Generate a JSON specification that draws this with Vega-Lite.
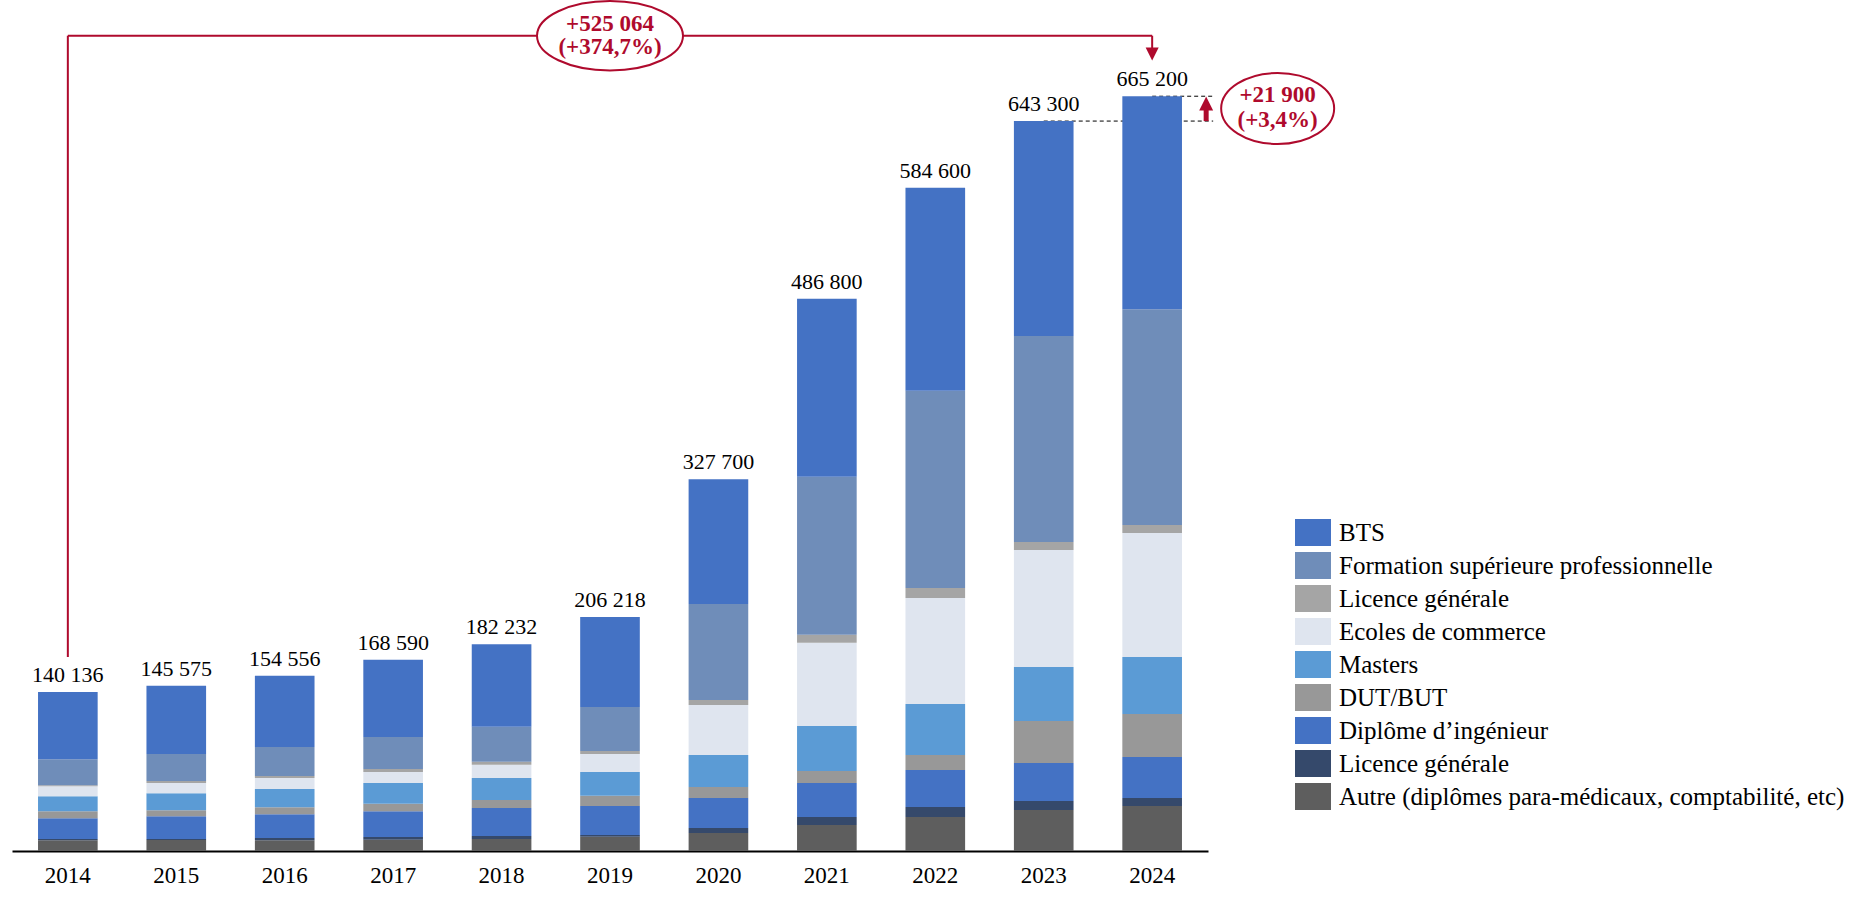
{
  "$schema": "https://vega.github.io/schema/vega-lite/v6.json",
  "width": 1196,
  "height": 851,
  "autosize": {"type": "none"},
  "padding": {"left": 12, "top": 0, "right": 653, "bottom": 48},
  "background": "white",
  "datasets": {
    "guides": [
      {"de": "2023", "a": "2024", "niveau": 643300},
      {"de": "2024", "a": "2024", "niveau": 665200}
    ],
    "crochet_v": [
      {"annee": "2014", "bas": 171000, "haut": 718500},
      {"annee": "2024", "bas": 707700, "haut": 718500}
    ],
    "crochet_h": [{"de": "2014", "a": "2024", "niveau": 718500}],
    "pointe_bas": [{"annee": "2024", "niveau": 702400}],
    "bulle_haut": [{"annee": "2019", "niveau": 718500}],
    "texte_haut": [
      {"annee": "2019", "niveau": 722900, "texte": "+525 064"},
      {"annee": "2019", "niveau": 702000, "texte": "(+374,7%)"}
    ],
    "tige": [{"annee": "2024", "bas": 643300, "haut": 653700}],
    "pointe_haut": [{"annee": "2024", "niveau": 658800}],
    "bulle_droite": [{"annee": "2024", "niveau": 654400}],
    "texte_droite": [
      {"annee": "2024", "niveau": 660400, "texte": "+21 900"},
      {"annee": "2024", "niveau": 638300, "texte": "(+3,4%)"}
    ],
    "effectifs": [
      {"annee": "2014", "categorie": "Autre (diplômes para-médicaux, comptabilité, etc)", "effectif": 9421},
      {"annee": "2014", "categorie": "Licence générale (2)", "effectif": 1178},
      {"annee": "2014", "categorie": "Diplôme d’ingénieur", "effectif": 18253},
      {"annee": "2014", "categorie": "DUT/BUT", "effectif": 6182},
      {"annee": "2014", "categorie": "Masters", "effectif": 13248},
      {"annee": "2014", "categorie": "Ecoles de commerce", "effectif": 8832},
      {"annee": "2014", "categorie": "Licence générale (1)", "effectif": 883},
      {"annee": "2014", "categorie": "Formation supérieure professionnelle", "effectif": 22963},
      {"annee": "2014", "categorie": "BTS", "effectif": 59176},
      {"annee": "2015", "categorie": "Autre (diplômes para-médicaux, comptabilité, etc)", "effectif": 9725},
      {"annee": "2015", "categorie": "Licence générale (2)", "effectif": 884},
      {"annee": "2015", "categorie": "Diplôme d’ingénieur", "effectif": 20040},
      {"annee": "2015", "categorie": "DUT/BUT", "effectif": 5305},
      {"annee": "2015", "categorie": "Masters", "effectif": 15030},
      {"annee": "2015", "categorie": "Ecoles de commerce", "effectif": 8841},
      {"annee": "2015", "categorie": "Licence générale (1)", "effectif": 1768},
      {"annee": "2015", "categorie": "Formation supérieure professionnelle", "effectif": 23871},
      {"annee": "2015", "categorie": "BTS", "effectif": 60111},
      {"annee": "2016", "categorie": "Autre (diplômes para-médicaux, comptabilité, etc)", "effectif": 9439},
      {"annee": "2016", "categorie": "Licence générale (2)", "effectif": 2065},
      {"annee": "2016", "categorie": "Diplôme d’ingénieur", "effectif": 20942},
      {"annee": "2016", "categorie": "DUT/BUT", "effectif": 6194},
      {"annee": "2016", "categorie": "Masters", "effectif": 15928},
      {"annee": "2016", "categorie": "Ecoles de commerce", "effectif": 9734},
      {"annee": "2016", "categorie": "Licence générale (1)", "effectif": 1770},
      {"annee": "2016", "categorie": "Formation supérieure professionnelle", "effectif": 25661},
      {"annee": "2016", "categorie": "BTS", "effectif": 62823},
      {"annee": "2017", "categorie": "Autre (diplômes para-médicaux, comptabilité, etc)", "effectif": 10021},
      {"annee": "2017", "categorie": "Licence générale (2)", "effectif": 2358},
      {"annee": "2017", "categorie": "Diplôme d’ingénieur", "effectif": 22695},
      {"annee": "2017", "categorie": "DUT/BUT", "effectif": 6484},
      {"annee": "2017", "categorie": "Masters", "effectif": 18274},
      {"annee": "2017", "categorie": "Ecoles de commerce", "effectif": 9726},
      {"annee": "2017", "categorie": "Licence générale (1)", "effectif": 2653},
      {"annee": "2017", "categorie": "Formation supérieure professionnelle", "effectif": 28295},
      {"annee": "2017", "categorie": "BTS", "effectif": 68084},
      {"annee": "2018", "categorie": "Autre (diplômes para-médicaux, comptabilité, etc)", "effectif": 10633},
      {"annee": "2018", "categorie": "Licence générale (2)", "effectif": 2658},
      {"annee": "2018", "categorie": "Diplôme d’ingénieur", "effectif": 24514},
      {"annee": "2018", "categorie": "DUT/BUT", "effectif": 7088},
      {"annee": "2018", "categorie": "Masters", "effectif": 19493},
      {"annee": "2018", "categorie": "Ecoles de commerce", "effectif": 11519},
      {"annee": "2018", "categorie": "Licence générale (1)", "effectif": 2658},
      {"annee": "2018", "categorie": "Formation supérieure professionnelle", "effectif": 31012},
      {"annee": "2018", "categorie": "BTS", "effectif": 72657},
      {"annee": "2019", "categorie": "Autre (diplômes para-médicaux, comptabilité, etc)", "effectif": 12632},
      {"annee": "2019", "categorie": "Licence générale (2)", "effectif": 1469},
      {"annee": "2019", "categorie": "Diplôme d’ingénieur", "effectif": 25557},
      {"annee": "2019", "categorie": "DUT/BUT", "effectif": 9107},
      {"annee": "2019", "categorie": "Masters", "effectif": 20857},
      {"annee": "2019", "categorie": "Ecoles de commerce", "effectif": 15863},
      {"annee": "2019", "categorie": "Licence générale (1)", "effectif": 2644},
      {"annee": "2019", "categorie": "Formation supérieure professionnelle", "effectif": 38776},
      {"annee": "2019", "categorie": "BTS", "effectif": 79313},
      {"annee": "2020", "categorie": "Autre (diplômes para-médicaux, comptabilité, etc)", "effectif": 15856},
      {"annee": "2020", "categorie": "Licence générale (2)", "effectif": 4404},
      {"annee": "2020", "categorie": "Diplôme d’ingénieur", "effectif": 26427},
      {"annee": "2020", "categorie": "DUT/BUT", "effectif": 9690},
      {"annee": "2020", "categorie": "Masters", "effectif": 28189},
      {"annee": "2020", "categorie": "Ecoles de commerce", "effectif": 44045},
      {"annee": "2020", "categorie": "Licence générale (1)", "effectif": 4404},
      {"annee": "2020", "categorie": "Formation supérieure professionnelle", "effectif": 84567},
      {"annee": "2020", "categorie": "BTS", "effectif": 110118},
      {"annee": "2021", "categorie": "Autre (diplômes para-médicaux, comptabilité, etc)", "effectif": 22929},
      {"annee": "2021", "categorie": "Licence générale (2)", "effectif": 7055},
      {"annee": "2021", "categorie": "Diplôme d’ingénieur", "effectif": 29984},
      {"annee": "2021", "categorie": "DUT/BUT", "effectif": 10583},
      {"annee": "2021", "categorie": "Masters", "effectif": 39685},
      {"annee": "2021", "categorie": "Ecoles de commerce", "effectif": 73196},
      {"annee": "2021", "categorie": "Licence générale (1)", "effectif": 7055},
      {"annee": "2021", "categorie": "Formation supérieure professionnelle", "effectif": 139337},
      {"annee": "2021", "categorie": "BTS", "effectif": 156976},
      {"annee": "2022", "categorie": "Autre (diplômes para-médicaux, comptabilité, etc)", "effectif": 29978},
      {"annee": "2022", "categorie": "Licence générale (2)", "effectif": 8817},
      {"annee": "2022", "categorie": "Diplôme d’ingénieur", "effectif": 32623},
      {"annee": "2022", "categorie": "DUT/BUT", "effectif": 13226},
      {"annee": "2022", "categorie": "Masters", "effectif": 44967},
      {"annee": "2022", "categorie": "Ecoles de commerce", "effectif": 93460},
      {"annee": "2022", "categorie": "Licence générale (1)", "effectif": 8817},
      {"annee": "2022", "categorie": "Formation supérieure professionnelle", "effectif": 173695},
      {"annee": "2022", "categorie": "BTS", "effectif": 179017},
      {"annee": "2023", "categorie": "Autre (diplômes para-médicaux, comptabilité, etc)", "effectif": 36130},
      {"annee": "2023", "categorie": "Licence générale (2)", "effectif": 7931},
      {"annee": "2023", "categorie": "Diplôme d’ingénieur", "effectif": 33487},
      {"annee": "2023", "categorie": "DUT/BUT", "effectif": 37012},
      {"annee": "2023", "categorie": "Masters", "effectif": 47587},
      {"annee": "2023", "categorie": "Ecoles de commerce", "effectif": 103106},
      {"annee": "2023", "categorie": "Licence générale (1)", "effectif": 7050},
      {"annee": "2023", "categorie": "Formation supérieure professionnelle", "effectif": 181537},
      {"annee": "2023", "categorie": "BTS", "effectif": 189460},
      {"annee": "2024", "categorie": "Autre (diplômes para-médicaux, comptabilité, etc)", "effectif": 39649},
      {"annee": "2024", "categorie": "Licence générale (2)", "effectif": 7049},
      {"annee": "2024", "categorie": "Diplôme d’ingénieur", "effectif": 36124},
      {"annee": "2024", "categorie": "DUT/BUT", "effectif": 37886},
      {"annee": "2024", "categorie": "Masters", "effectif": 50221},
      {"annee": "2024", "categorie": "Ecoles de commerce", "effectif": 109252},
      {"annee": "2024", "categorie": "Licence générale (1)", "effectif": 7049},
      {"annee": "2024", "categorie": "Formation supérieure professionnelle", "effectif": 190311},
      {"annee": "2024", "categorie": "BTS", "effectif": 187659}
    ]
  },
  "layer": [
    {
      "data": {"name": "guides"},
      "mark": {"type": "rule", "color": "black", "strokeWidth": 1, "strokeDash": [4, 3], "x2Offset": 61},
      "encoding": {
        "x": {"field": "de", "type": "ordinal", "axis": {"title": null, "labelAngle": 0, "labelFontSize": 23, "labelFont": "Liberation Serif", "labelColor": "black", "ticks": false, "labelPadding": 13, "labelAlign": "center", "labelBaseline": "top", "bandPosition": 0.5, "domainColor": "black", "domainWidth": 2, "grid": false}},
        "x2": {"field": "a"},
        "y": {"field": "niveau", "type": "quantitative", "scale": {"domain": [0, 750000], "nice": false}, "axis": null}
      }
    },
    {
      "data": {"name": "effectifs"},
      "transform": [
        {"calculate": "indexof(['Autre (diplômes para-médicaux, comptabilité, etc)', 'Licence générale (2)', 'Diplôme d’ingénieur', 'DUT/BUT', 'Masters', 'Ecoles de commerce', 'Licence générale (1)', 'Formation supérieure professionnelle', 'BTS'], datum.categorie)", "as": "rang"}
      ],
      "mark": {"type": "bar"},
      "encoding": {
        "x": {
          "field": "annee", "type": "ordinal",
          "scale": {"paddingInner": 0.45, "paddingOuter": 0.24},
          "axis": {"title": null, "labelAngle": 0, "labelFontSize": 23, "labelFont": "Liberation Serif", "labelColor": "black", "ticks": false, "labelPadding": 13, "labelAlign": "center", "labelBaseline": "top", "bandPosition": 0.5, "domainColor": "black", "domainWidth": 2, "grid": false}
        },
        "y": {
          "field": "effectif", "type": "quantitative", "stack": "zero",
          "scale": {"domain": [0, 750000], "nice": false}, "axis": null
        },
        "color": {
          "field": "categorie", "type": "nominal",
          "scale": {
            "domain": [
              "BTS",
              "Formation supérieure professionnelle",
              "Licence générale (1)",
              "Ecoles de commerce",
              "Masters",
              "DUT/BUT",
              "Diplôme d’ingénieur",
              "Licence générale (2)",
              "Autre (diplômes para-médicaux, comptabilité, etc)"
            ],
            "range": ["#4472C4", "#6F8DB9", "#A5A5A5", "#DFE5EF", "#5B9BD5", "#989898", "#4472C4", "#35496B", "#5E5E5E"]
          },
          "legend": {
            "title": null, "orient": "none", "legendX": 1283, "legendY": 514.5, "padding": 0,
            "symbolType": "M-1,-0.75H1V0.75H-1Z", "symbolSize": 1296, "symbolStrokeWidth": 0,
            "labelFontSize": 25, "labelFont": "Liberation Serif", "labelColor": "black",
            "labelOffset": 8, "labelLimit": 800, "rowPadding": 1,
            "labelExpr": "datum.label == 'Licence générale (1)' || datum.label == 'Licence générale (2)' ? 'Licence générale' : datum.label"
          }
        },
        "order": {"field": "rang", "type": "quantitative"}
      }
    },
    {
      "data": {"name": "effectifs"},
      "transform": [
        {"aggregate": [{"op": "sum", "field": "effectif", "as": "total"}], "groupby": ["annee"]}
      ],
      "mark": {"type": "text", "fontSize": 22, "font": "Liberation Serif", "color": "black", "baseline": "alphabetic", "dy": -10},
      "encoding": {
        "x": {"field": "annee", "type": "ordinal", "axis": {"title": null, "labelAngle": 0, "labelFontSize": 23, "labelFont": "Liberation Serif", "labelColor": "black", "ticks": false, "labelPadding": 13, "labelAlign": "center", "labelBaseline": "top", "bandPosition": 0.5, "domainColor": "black", "domainWidth": 2, "grid": false}},
        "y": {"field": "total", "type": "quantitative", "scale": {"domain": [0, 750000], "nice": false}, "axis": null},
        "text": {"field": "total", "type": "quantitative", "format": ","}
      }
    },
    {
      "data": {"name": "crochet_v"},
      "mark": {"type": "rule", "color": "#AF0A2D", "strokeWidth": 2},
      "encoding": {
        "x": {"field": "annee", "type": "ordinal", "axis": {"title": null, "labelAngle": 0, "labelFontSize": 23, "labelFont": "Liberation Serif", "labelColor": "black", "ticks": false, "labelPadding": 13, "labelAlign": "center", "labelBaseline": "top", "bandPosition": 0.5, "domainColor": "black", "domainWidth": 2, "grid": false}},
        "y": {"field": "bas", "type": "quantitative", "scale": {"domain": [0, 750000], "nice": false}, "axis": null},
        "y2": {"field": "haut"}
      }
    },
    {
      "data": {"name": "crochet_h"},
      "mark": {"type": "rule", "color": "#AF0A2D", "strokeWidth": 2},
      "encoding": {
        "x": {"field": "de", "type": "ordinal", "axis": {"title": null, "labelAngle": 0, "labelFontSize": 23, "labelFont": "Liberation Serif", "labelColor": "black", "ticks": false, "labelPadding": 13, "labelAlign": "center", "labelBaseline": "top", "bandPosition": 0.5, "domainColor": "black", "domainWidth": 2, "grid": false}},
        "x2": {"field": "a"},
        "y": {"field": "niveau", "type": "quantitative", "scale": {"domain": [0, 750000], "nice": false}, "axis": null}
      }
    },
    {
      "data": {"name": "pointe_bas"},
      "mark": {"type": "point", "shape": "M-1,-1L1,-1L0,1Z", "size": 169, "filled": true, "color": "#AF0A2D", "opacity": 1, "strokeWidth": 0},
      "encoding": {
        "x": {"field": "annee", "type": "ordinal", "axis": {"title": null, "labelAngle": 0, "labelFontSize": 23, "labelFont": "Liberation Serif", "labelColor": "black", "ticks": false, "labelPadding": 13, "labelAlign": "center", "labelBaseline": "top", "bandPosition": 0.5, "domainColor": "black", "domainWidth": 2, "grid": false}},
        "y": {"field": "niveau", "type": "quantitative", "scale": {"domain": [0, 750000], "nice": false}, "axis": null}
      }
    },
    {
      "data": {"name": "bulle_haut"},
      "mark": {"type": "point", "shape": "M-1,0A1,0.475,0,1,0,1,0A1,0.475,0,1,0,-1,0Z", "size": 21316, "filled": true, "fill": "white", "stroke": "#AF0A2D", "strokeWidth": 2, "opacity": 1},
      "encoding": {
        "x": {"field": "annee", "type": "ordinal", "axis": {"title": null, "labelAngle": 0, "labelFontSize": 23, "labelFont": "Liberation Serif", "labelColor": "black", "ticks": false, "labelPadding": 13, "labelAlign": "center", "labelBaseline": "top", "bandPosition": 0.5, "domainColor": "black", "domainWidth": 2, "grid": false}},
        "y": {"field": "niveau", "type": "quantitative", "scale": {"domain": [0, 750000], "nice": false}, "axis": null}
      }
    },
    {
      "data": {"name": "texte_haut"},
      "mark": {"type": "text", "fontSize": 23, "fontWeight": "bold", "font": "Liberation Serif", "color": "#AF0A2D", "align": "center", "baseline": "alphabetic"},
      "encoding": {
        "x": {"field": "annee", "type": "ordinal", "axis": {"title": null, "labelAngle": 0, "labelFontSize": 23, "labelFont": "Liberation Serif", "labelColor": "black", "ticks": false, "labelPadding": 13, "labelAlign": "center", "labelBaseline": "top", "bandPosition": 0.5, "domainColor": "black", "domainWidth": 2, "grid": false}},
        "y": {"field": "niveau", "type": "quantitative", "scale": {"domain": [0, 750000], "nice": false}, "axis": null},
        "text": {"field": "texte", "type": "nominal"}
      }
    },
    {
      "data": {"name": "tige"},
      "mark": {"type": "rule", "color": "#AF0A2D", "strokeWidth": 5, "xOffset": 54},
      "encoding": {
        "x": {"field": "annee", "type": "ordinal", "axis": {"title": null, "labelAngle": 0, "labelFontSize": 23, "labelFont": "Liberation Serif", "labelColor": "black", "ticks": false, "labelPadding": 13, "labelAlign": "center", "labelBaseline": "top", "bandPosition": 0.5, "domainColor": "black", "domainWidth": 2, "grid": false}},
        "y": {"field": "bas", "type": "quantitative", "scale": {"domain": [0, 750000], "nice": false}, "axis": null},
        "y2": {"field": "haut"}
      }
    },
    {
      "data": {"name": "pointe_haut"},
      "mark": {"type": "point", "shape": "M-1,1L1,1L0,-1Z", "size": 196, "filled": true, "color": "#AF0A2D", "opacity": 1, "strokeWidth": 0, "xOffset": 54},
      "encoding": {
        "x": {"field": "annee", "type": "ordinal", "axis": {"title": null, "labelAngle": 0, "labelFontSize": 23, "labelFont": "Liberation Serif", "labelColor": "black", "ticks": false, "labelPadding": 13, "labelAlign": "center", "labelBaseline": "top", "bandPosition": 0.5, "domainColor": "black", "domainWidth": 2, "grid": false}},
        "y": {"field": "niveau", "type": "quantitative", "scale": {"domain": [0, 750000], "nice": false}, "axis": null}
      }
    },
    {
      "data": {"name": "bulle_droite"},
      "mark": {"type": "point", "shape": "M-1,0A1,0.628,0,1,0,1,0A1,0.628,0,1,0,-1,0Z", "size": 12769, "filled": true, "fill": "white", "stroke": "#AF0A2D", "strokeWidth": 2, "opacity": 1, "xOffset": 125.5},
      "encoding": {
        "x": {"field": "annee", "type": "ordinal", "axis": {"title": null, "labelAngle": 0, "labelFontSize": 23, "labelFont": "Liberation Serif", "labelColor": "black", "ticks": false, "labelPadding": 13, "labelAlign": "center", "labelBaseline": "top", "bandPosition": 0.5, "domainColor": "black", "domainWidth": 2, "grid": false}},
        "y": {"field": "niveau", "type": "quantitative", "scale": {"domain": [0, 750000], "nice": false}, "axis": null}
      }
    },
    {
      "data": {"name": "texte_droite"},
      "mark": {"type": "text", "fontSize": 23, "fontWeight": "bold", "font": "Liberation Serif", "color": "#AF0A2D", "align": "center", "baseline": "alphabetic", "dx": 125.5},
      "encoding": {
        "x": {"field": "annee", "type": "ordinal", "axis": {"title": null, "labelAngle": 0, "labelFontSize": 23, "labelFont": "Liberation Serif", "labelColor": "black", "ticks": false, "labelPadding": 13, "labelAlign": "center", "labelBaseline": "top", "bandPosition": 0.5, "domainColor": "black", "domainWidth": 2, "grid": false}},
        "y": {"field": "niveau", "type": "quantitative", "scale": {"domain": [0, 750000], "nice": false}, "axis": null},
        "text": {"field": "texte", "type": "nominal"}
      }
    }
  ],
  "config": {
    "view": {"stroke": null},
    "font": "Liberation Serif",
    "locale": {
      "number": {"decimal": ",", "thousands": " ", "grouping": [3], "currency": ["", " €"]}
    }
  }
}
